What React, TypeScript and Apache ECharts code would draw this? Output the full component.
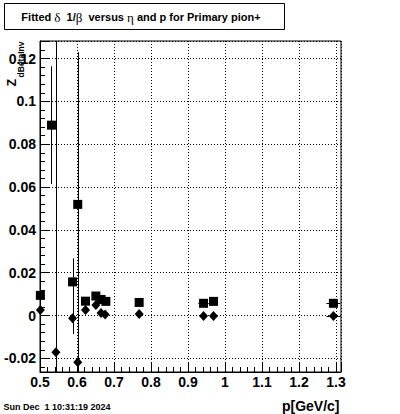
import React, { useEffect, useRef } from "react";
import * as echarts from "echarts";

// Squares series (p, value, value error, p error)
const sqP = [0.501, 0.531, 0.588, 0.602, 0.623, 0.651, 0.665, 0.678, 0.768, 0.942, 0.969, 1.293];
const sqVal = [0.0094, 0.0889, 0.0157, 0.0519, 0.0067, 0.0091, 0.0075, 0.0066, 0.0061, 0.0057, 0.0066, 0.0057];
const sqErr = [0.0008, 0.0275, 0.011, 0.0711, 0.0008, 0.0008, 0.0008, 0.0008, 0.0006, 0.0006, 0.0006, 0.0006];
const sqPErr = [0, 0, 0, 0, 0, 0, 0, 0, 0, 0.014, 0, 0.019];

// Diamonds series
const dmP = [0.501, 0.543, 0.588, 0.602, 0.623, 0.651, 0.665, 0.676, 0.768, 0.942, 0.969, 1.293];
const dmVal = [0.0026, -0.0171, -0.0013, -0.0218, 0.0026, 0.0049, 0.0012, 0.0005, 0.0007, -0.0002, -0.0002, -0.0002];
const dmErr = [0.0008, 0.2, 0.0074, 0.03, 0.0008, 0.0008, 0.0008, 0.0008, 0.0006, 0.0006, 0.0006, 0.0006];
const dmPErr = [0, 0, 0, 0, 0, 0, 0, 0, 0, 0, 0, 0.019];

const xRange = [0.5, 1.3135];
const yRange = [-0.02638, 0.1282];

const xTitle = "p[GeV/c]";
const yTitleMain = "Z";
const yTitleSub = "dBetaInv";
const dateText = "Sun Dec  1 10:31:19 2024";

const FONT = "'Liberation Sans', Arial, sans-serif";

function errData(p: number[], v: number[], e: number[], pe: number[]) {
  return p.map((x, i) => [x, v[i], e[i], pe[i]]);
}

function errorSeries(data: number[][]) {
  return {
    type: "custom",
    clip: true,
    silent: true,
    encode: { x: 0, y: 1 },
    data,
    z: 3,
    renderItem: (params: any, api: any) => {
      const x = api.value(0);
      const y = api.value(1);
      const ey = api.value(2);
      const ex = api.value(3);
      const children: any[] = [];
      if (ey > 0) {
        const a = api.coord([x, y - ey]);
        const b = api.coord([x, y + ey]);
        children.push({
          type: "line",
          shape: { x1: Math.round(a[0]) + 0.5, y1: a[1], x2: Math.round(b[0]) + 0.5, y2: b[1] },
          style: { stroke: "#000", lineWidth: 1 },
        });
      }
      if (ex > 0) {
        const a = api.coord([x - ex, y]);
        const b = api.coord([x + ex, y]);
        children.push({
          type: "line",
          shape: { x1: a[0], y1: Math.round(a[1]) + 0.5, x2: b[0], y2: Math.round(b[1]) + 0.5 },
          style: { stroke: "#000", lineWidth: 1 },
        });
      }
      return { type: "group", children };
    },
  };
}

export default function App() {
  const ref = useRef<HTMLDivElement>(null);
  useEffect(() => {
    if (!ref.current) return;
    const chart = echarts.init(ref.current, null, { renderer: "svg" });
    const axisLabel = {
      color: "#000",
      fontFamily: FONT,
      fontWeight: "bold" as const,
      fontSize: 14,
    };
    chart.setOption({
      animation: false,
      backgroundColor: "#fff",
      grid: {
        left: 40,
        top: 41,
        width: 301,
        height: 331,
        show: true,
        borderColor: "#000",
        borderWidth: 1,
        backgroundColor: "transparent",
      },
      xAxis: {
        type: "value",
        min: xRange[0],
        max: xRange[1],
        interval: 0.1,
        axisLine: { show: true, onZero: false, lineStyle: { color: "#000", width: 1 } },
        axisTick: { show: true, inside: true, length: 9, lineStyle: { color: "#000" } },
        minorTick: { show: true, splitNumber: 5, length: 5, lineStyle: { color: "#000" } },
        splitLine: { show: true, lineStyle: { color: "#000", type: [1, 2], width: 1 } },
        axisLabel: { ...axisLabel, margin: 3, showMinLabel: true, showMaxLabel: false },
      },
      yAxis: {
        type: "value",
        min: yRange[0],
        max: yRange[1],
        splitNumber: 8,
        axisLine: { show: true, onZero: false, lineStyle: { color: "#000", width: 1 } },
        axisTick: { show: true, inside: true, length: 9, lineStyle: { color: "#000" } },
        minorTick: { show: true, splitNumber: 5, length: 5, lineStyle: { color: "#000" } },
        splitLine: { show: true, lineStyle: { color: "#000", type: [1, 2], width: 1 } },
        axisLabel: { ...axisLabel, margin: 4, showMinLabel: false, showMaxLabel: false },
      },
      series: [
        errorSeries(errData(sqP, sqVal, sqErr, sqPErr)),
        errorSeries(errData(dmP, dmVal, dmErr, dmPErr)),
        {
          type: "scatter",
          symbol: "rect",
          symbolSize: 9,
          itemStyle: { color: "#000", opacity: 1 },
          data: sqP.map((x, i) => [x, sqVal[i]]),
          z: 4,
        },
        {
          type: "scatter",
          symbol: "diamond",
          symbolSize: [9, 10],
          itemStyle: { color: "#000", opacity: 1 },
          data: dmP.map((x, i) => [x, dmVal[i]]),
          z: 5,
        },
      ],
      graphic: [
        {
          type: "rect",
          shape: { x: 4.5, y: 3.5, width: 280, height: 26 },
          style: { fill: "#fff", stroke: "#000", lineWidth: 1 },
          z: 10,
        },
        {
          type: "text",
          x: 141,
          y: 17,
          z: 11,
          style: {
            text: "{b|Fitted }{g|δ}{b|  1/}{g|β}{b|  versus }{g|η}{b| and p for Primary pion+}",
            align: "center",
            verticalAlign: "middle",
            rich: {
              b: { fontFamily: FONT, fontWeight: "bold", fontSize: 11, fill: "#000" },
              g: { fontFamily: "'Liberation Serif', 'DejaVu Serif', serif", fontSize: 13, fill: "#000" },
            },
          },
        },
        {
          type: "text",
          x: 11.5,
          y: 82.5,
          rotation: Math.PI / 2,
          z: 11,
          style: {
            text: yTitleMain,
            font: `bold 12px ${FONT}`,
            fill: "#000",
            align: "center",
            verticalAlign: "middle",
          },
        },
        {
          type: "text",
          x: 21,
          y: 59.5,
          rotation: Math.PI / 2,
          z: 11,
          style: {
            text: yTitleSub,
            font: `bold 8.5px ${FONT}`,
            fill: "#000",
            align: "center",
            verticalAlign: "middle",
          },
        },
        {
          type: "text",
          x: 339.5,
          y: 405.5,
          z: 11,
          style: {
            text: xTitle,
            font: `bold 14px ${FONT}`,
            fill: "#000",
            align: "right",
            verticalAlign: "middle",
          },
        },
        {
          type: "text",
          x: 3.5,
          y: 406.5,
          z: 11,
          style: {
            text: dateText,
            font: `bold 9px ${FONT}`,
            fill: "#000",
            align: "left",
            verticalAlign: "middle",
          },
        },
      ],
    });
    return () => chart.dispose();
  }, []);
  return (
    <div
      ref={ref}
      style={{ position: "fixed", left: 0, top: 0, width: 400, height: 414, background: "#fff" }}
    />
  );
}
